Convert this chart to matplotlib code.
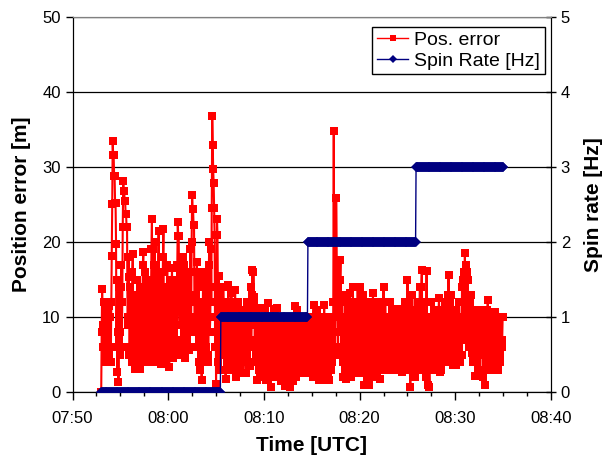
import numpy as np
import matplotlib
matplotlib.use("Agg")
import matplotlib.pyplot as plt
from matplotlib.lines import Line2D
from matplotlib.ticker import MultipleLocator, FixedLocator

plt.rcParams['font.family'] = ['Liberation Sans', 'DejaVu Sans']

# ---- data ----
# time axis: minutes after 07:50, samples every 3 s starting at 07:53
start_min = 3.0
sample_step_min = 0.05
# position error [m], one row per minute (20 samples each), 07:53 .. 08:34, plus final sample
pos_error_rows = [
    [0, 8, 13.8, 6, 9, 12, 6, 4, 12, 7, 5, 11, 10.5, 4, 7, 12, 11.5, 5, 6, 10],
    [4, 12, 18.2, 25, 33.5, 31.6, 31.6, 28.8, 28.8, 25.2, 25.2, 19.7, 6, 15, 2.7, 8, 1.4, 10, 14, 5],
    [8, 14, 17, 6, 12, 22, 28.1, 26.8, 26.8, 25.5, 25.5, 23.7, 23.7, 22, 22, 10, 9, 18, 15.3, 5],
    [6, 14, 11, 5, 4, 16, 18.4, 7, 8, 12, 3.1, 10, 13, 4, 6, 15, 12.5, 5, 4.5, 11],
    [10, 4, 3.1, 12, 14, 5, 7, 17, 18.7, 8, 5, 14, 16, 4, 8, 15, 13, 5, 6, 12],
    [15, 6, 4, 13, 12, 19, 23.0, 8, 19, 5, 9, 17, 20, 7, 6, 15, 14, 4, 5, 16],
    [21.5, 12, 7, 15, 3.8, 11, 16, 5, 10, 18, 21.7, 9, 6, 14, 13, 5, 4, 12, 17, 7],
    [8, 13, 3.4, 10, 15, 5, 6, 14, 16.6, 7, 4.5, 13, 12, 5, 7, 15, 14, 6, 5, 17],
    [22.6, 20.8, 20.8, 11, 9, 16, 15, 6, 5, 14, 18, 7, 8, 17, 13, 5, 4.5, 12, 16, 7],
    [7, 15, 14, 6, 5.6, 13, 19, 8, 10, 20, 26.2, 24.4, 24.4, 22.2, 22.2, 9, 8, 16, 12, 6],
    [17.3, 8, 6, 15, 14, 4, 3, 12, 11, 5, 1.6, 10, 9, 16, 15, 6, 5, 14, 13, 4],
    [6, 14, 16, 5, 4, 17, 20, 8, 10, 19, 12, 24.5, 36.8, 32.9, 29.7, 27.9, 24.5, 20.9, 6, 14],
    [1.1, 10, 23, 20.9, 12, 4, 15.5, 6, 9, 13, 3, 11, 12, 5, 7, 14, 11, 3, 7, 12],
    [1.8, 9, 10, 3, 5, 12, 14.3, 6, 3, 11, 9, 4, 13.2, 5, 4, 10, 11, 3, 6, 12],
    [13.6, 6, 2, 10, 8, 3, 12, 5, 4, 11, 10, 3, 2.5, 9, 7, 4, 11, 6, 5, 10],
    [9, 4, 2.5, 10, 12, 5, 6, 11, 10, 4, 3.5, 12, 14, 6, 7, 13, 16.3, 9, 16.0, 12],
    [12.7, 6, 11, 4, 5, 9, 1.6, 7, 9, 3, 11.2, 5, 4, 10, 8, 2, 2.5, 9, 10, 4],
    [4, 10, 11.2, 3, 1.6, 9, 8, 2, 11.9, 6, 3, 10, 9, 2, 0.7, 8, 7, 3, 10, 5],
    [5, 10, 11.1, 3, 2, 8, 9, 4, 11.2, 6, 4, 10, 7, 2, 10, 5, 1.5, 9, 8, 3],
    [3, 8, 9, 2, 0.8, 7, 7, 3, 10, 5, 2, 9, 8, 1.5, 0.7, 7, 6, 2, 9, 4],
    [1.5, 8, 10, 3, 4, 10, 11.5, 5, 2, 9, 10.9, 4, 6, 10, 9, 3, 3, 8, 8, 2.5],
    [2.5, 8, 9, 3, 4, 9, 8.6, 2.5, 2.5, 8, 7, 3, 10, 5, 3, 9, 8, 3, 5, 10],
    [9, 3, 2, 10, 11.6, 4, 5, 10, 10, 3, 3, 9, 11, 4, 7, 10, 1.6, 6, 9, 2.5],
    [2, 9, 10, 3, 1.6, 8, 11.6, 4, 5, 10, 9, 2.5, 2.5, 8, 8, 2, 1.6, 9, 10, 3],
    [3, 8, 9, 4, 5, 12, 34.8, 10, 8, 5, 12, 25.9, 20, 10, 14, 6, 17.6, 8, 10, 15],
    [17.6, 9, 5, 12, 13, 4, 2, 10, 9, 3, 12.7, 6, 1.8, 9, 8, 3, 11, 5, 4, 12],
    [13.2, 5, 2, 9, 10, 4, 14.0, 7, 6, 12, 11, 3, 2.5, 10, 9, 4, 14, 7, 5, 11],
    [14.0, 6, 2.5, 9, 10, 4, 6, 12, 13, 5, 1.0, 8, 8, 3, 11, 5, 3, 10, 9, 2],
    [1.0, 8, 7, 3, 12, 5, 4, 11, 13.2, 5, 6, 12, 10, 3, 2, 9, 9, 4, 12, 6],
    [5, 10, 1.8, 7, 8, 3, 11, 5, 3, 10, 14.0, 6, 7, 12, 12, 4, 4, 10, 10, 3],
    [2.9, 8, 9, 4, 12, 6, 5, 11, 11, 4, 3, 9, 8, 3, 10, 5, 4, 10, 11.1, 5],
    [6, 10, 11.1, 4, 3, 9, 9, 3, 2.7, 8, 10, 4, 5, 11, 12, 5, 4, 10, 9, 3],
    [14.9, 7, 6, 12, 12, 3, 0.7, 8, 9, 4, 13, 6, 4, 11, 10, 3, 2, 9, 11, 5],
    [5, 11, 12, 4, 3, 10, 14, 6, 7, 14, 16.3, 8, 4, 10, 12, 5, 9, 3, 2, 10],
    [16.1, 8, 1.0, 9, 10, 3, 0.7, 7, 8, 4, 12, 6, 4, 9, 9.9, 5, 6, 10, 11, 4],
    [3, 8, 9, 4, 5, 11, 12.5, 6, 2.7, 8, 8, 3, 11, 5, 4, 10, 10, 5, 6, 12],
    [12, 6, 4, 10, 9, 13, 15.6, 8, 7, 12, 13, 5, 5, 11, 11, 4, 3.6, 9, 10, 5],
    [6, 11, 3.6, 8, 10, 4, 5, 12, 12, 5, 4, 10, 9, 5, 14, 8, 7, 15, 16, 9],
    [18.5, 11, 17, 8, 10, 16, 15, 7, 6, 13, 12, 6, 8, 13, 5.2, 10, 11, 5, 4, 10],
    [9, 4, 2.1, 9, 10, 4, 5, 10, 8, 3, 3, 10, 11, 5, 6, 10, 9, 3, 2, 8],
    [8, 3, 1.0, 8, 10, 4, 4, 11, 12.3, 6, 6, 10, 9, 4, 3, 9, 10.7, 5, 5, 10],
    [9, 5, 4, 10, 10.7, 5, 6, 10, 10, 4, 3, 9, 9, 4, 5, 10, 10, 6, 7, 10],
]
pos_error_last = [10]

# spin rate [Hz]: levels and the minutes (after 07:50) at which it changes
spin_levels = [0, 1, 2, 3]
spin_change_min = [15.5, 24.6, 35.9]

x_tick_labels = ["07:50", "08:00", "08:10", "08:20", "08:30", "08:40"]

# ---- build series ----
pos_error = np.concatenate([np.ravel(pos_error_rows), pos_error_last])
t = start_min + np.arange(len(pos_error)) * sample_step_min
spin = np.array(spin_levels)[np.searchsorted(spin_change_min, t, side='right')]

# ---- figure ----
fig = plt.figure(figsize=(6.07, 4.61), dpi=100)
ax = fig.add_axes([72.5 / 607, 69 / 461, (551 - 72.5) / 607, (392 - 17) / 461])
ax2 = ax.twinx()

red = '#FF0000'
navy = '#000080'

ax.plot(t, pos_error, color=red, lw=1.5, marker='s', markersize=5.6,
        markeredgewidth=0, zorder=3)
ax2.plot(t, spin, color=navy, lw=1.0, marker='D', markersize=5.0,
         markeredgewidth=0, zorder=3)

ax.set_xlim(0, 50)
ax.set_ylim(0, 50)
ax2.set_ylim(0, 5)

ax.xaxis.set_major_locator(FixedLocator([0, 10, 20, 30, 40, 50]))
ax.set_xticklabels(x_tick_labels)
ax.xaxis.set_minor_locator(MultipleLocator(2.5))
ax.yaxis.set_major_locator(MultipleLocator(10))
ax2.yaxis.set_major_locator(MultipleLocator(1))

ax.grid(axis='y', color='black', lw=0.9)
ax.set_axisbelow(True)

ax.tick_params(axis='both', which='major', labelsize=12, direction='out',
               length=5, width=1, color='black')
ax.tick_params(axis='x', which='minor', direction='out', length=3, width=1)
ax.tick_params(axis='x', which='major', length=6, pad=8)
ax2.tick_params(axis='y', which='major', labelsize=12, direction='inout',
                length=7, width=1, color='black')

for a in (ax, ax2):
    a.spines['top'].set_color('#808080')
    a.spines['left'].set_color('black')
    a.spines['right'].set_color('black')
    a.spines['bottom'].set_color('black')

ax.set_xlabel('Time [UTC]', fontsize=15, fontweight='bold', labelpad=7)
ax.set_ylabel('Position error [m]', fontsize=15, fontweight='bold', labelpad=8)
ax2.set_ylabel('Spin rate [Hz]', fontsize=15, fontweight='bold', labelpad=10)

handles = [
    Line2D([], [], color=red, lw=1.0, marker='s', markersize=5, markeredgewidth=0),
    Line2D([], [], color=navy, lw=1.0, marker='D', markersize=4, markeredgewidth=0),
]
leg = ax2.legend(handles, ['Pos. error', 'Spin Rate [Hz]'], loc='upper right',
                 bbox_to_anchor=(0.995, 0.985), fontsize=14, frameon=True,
                 fancybox=False, edgecolor='black', framealpha=1,
                 handlelength=1.6, handletextpad=0.3, borderpad=0.25,
                 labelspacing=0.15, borderaxespad=0.2)
leg.get_frame().set_linewidth(1.0)

fig.savefig('out.png', dpi=100)
